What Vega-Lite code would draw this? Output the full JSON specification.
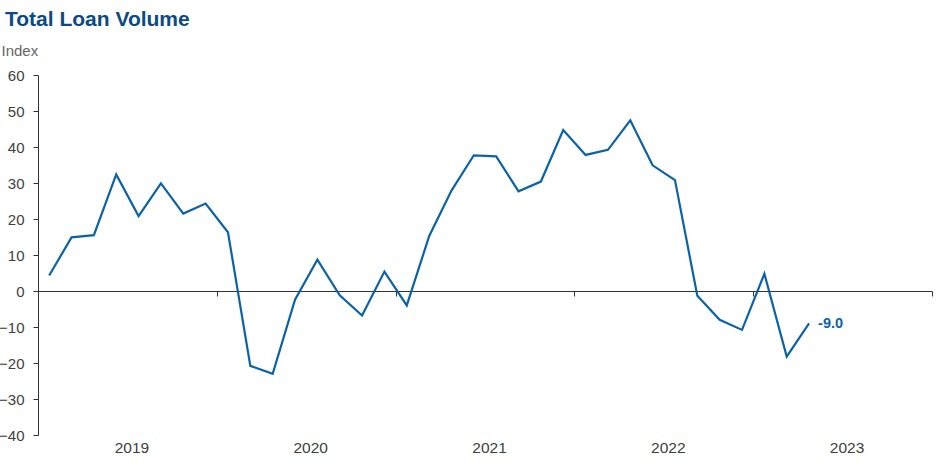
{
  "$schema": "https://vega.github.io/schema/vega-lite/v6.json",
  "width": 894,
  "height": 360,
  "autosize": {"type": "none"},
  "padding": {"left": 38, "top": 75, "right": 9, "bottom": 36},
  "background": "white",
  "config": {
    "view": {"stroke": null},
    "font": "Liberation Sans"
  },
  "title": {
    "text": "Total Loan Volume",
    "anchor": "start",
    "frame": "group",
    "fontSize": 21,
    "fontWeight": "bold",
    "color": "#0b4a84",
    "font": "Liberation Sans",
    "dx": -33,
    "offset": 13
  },
  "data": {
    "values": [
      {"t": 2019.0625, "v": 4.3},
      {"t": 2019.1875, "v": 14.9},
      {"t": 2019.3125, "v": 15.5},
      {"t": 2019.4375, "v": 32.4},
      {"t": 2019.5625, "v": 20.8},
      {"t": 2019.6875, "v": 29.9},
      {"t": 2019.8125, "v": 21.5},
      {"t": 2019.9375, "v": 24.3},
      {"t": 2020.0625, "v": 16.3},
      {"t": 2020.1875, "v": -20.8},
      {"t": 2020.3125, "v": -23.0},
      {"t": 2020.4375, "v": -2.4},
      {"t": 2020.5625, "v": 8.7},
      {"t": 2020.6875, "v": -1.2},
      {"t": 2020.8125, "v": -6.8},
      {"t": 2020.9375, "v": 5.4},
      {"t": 2021.0625, "v": -4.0},
      {"t": 2021.1875, "v": 15.2},
      {"t": 2021.3125, "v": 27.9},
      {"t": 2021.4375, "v": 37.7},
      {"t": 2021.5625, "v": 37.4},
      {"t": 2021.6875, "v": 27.7},
      {"t": 2021.8125, "v": 30.4},
      {"t": 2021.9375, "v": 44.7},
      {"t": 2022.0625, "v": 37.8},
      {"t": 2022.1875, "v": 39.2},
      {"t": 2022.3125, "v": 47.4},
      {"t": 2022.4375, "v": 34.9},
      {"t": 2022.5625, "v": 30.8},
      {"t": 2022.6875, "v": -1.3},
      {"t": 2022.8125, "v": -8.0},
      {"t": 2022.9375, "v": -10.8},
      {"t": 2023.0625, "v": 4.8},
      {"t": 2023.1875, "v": -18.2},
      {"t": 2023.3125, "v": -9.0}
    ]
  },
  "resolve": {"axis": {"x": "independent"}},
  "layer": [
    {
      "mark": {"type": "line", "color": "#0c62a6", "strokeWidth": 2.2},
      "encoding": {
        "x": {
          "field": "t",
          "type": "quantitative",
          "scale": {"domain": [2019, 2024], "nice": false, "zero": false},
          "axis": {
            "orient": "bottom",
            "title": null,
            "grid": false,
            "domain": false,
            "ticks": false,
            "tickSize": 0,
            "values": [2019.5, 2020.5, 2021.5, 2022.5, 2023.5],
            "labelExpr": "floor(datum.value)",
            "labelFontSize": 15.5,
            "labelColor": "#404040",
            "labelPadding": 5,
            "labelOffset": 4
          }
        },
        "y": {
          "field": "v",
          "type": "quantitative",
          "scale": {"domain": [-40, 60], "nice": false},
          "axis": {
            "title": "Index",
            "titleAngle": 0,
            "titleX": -37,
            "titleY": -20,
            "titleAlign": "left",
            "titleBaseline": "alphabetic",
            "titleFontSize": 15,
            "titleFontWeight": "normal",
            "titleColor": "#666666",
            "grid": false,
            "values": [-40, -30, -20, -10, 0, 10, 20, 30, 40, 50, 60],
            "domainColor": "#333333",
            "tickColor": "#333333",
            "tickSize": 5,
            "labelFontSize": 15,
            "labelColor": "#404040",
            "labelPadding": 9
          }
        }
      }
    },
    {
      "transform": [
        {"filter": "datum.t == 2023.3125"},
        {"calculate": "replace(format(datum.v, '.1f'), '\u2212', '-')", "as": "lbl"}
      ],
      "mark": {"type": "text", "align": "left", "baseline": "middle", "dx": 9, "dy": 1, "fontSize": 14.5, "fontWeight": "bold", "color": "#0c62a6"},
      "encoding": {
        "x": {
          "field": "t",
          "type": "quantitative",
          "axis": {
            "orient": "bottom",
            "title": null,
            "grid": false,
            "labels": false,
            "offset": -144,
            "domain": true,
            "domainColor": "#333333",
            "ticks": true,
            "tickSize": 5,
            "tickColor": "#333333",
            "values": [2019, 2020, 2021, 2022, 2023, 2024]
          }
        },
        "y": {
          "field": "v",
          "type": "quantitative",
          "scale": {"domain": [-40, 60], "nice": false},
          "axis": {
            "title": "Index",
            "titleAngle": 0,
            "titleX": -37,
            "titleY": -20,
            "titleAlign": "left",
            "titleBaseline": "alphabetic",
            "titleFontSize": 15,
            "titleFontWeight": "normal",
            "titleColor": "#666666",
            "grid": false,
            "values": [-40, -30, -20, -10, 0, 10, 20, 30, 40, 50, 60],
            "domainColor": "#333333",
            "tickColor": "#333333",
            "tickSize": 5,
            "labelFontSize": 15,
            "labelColor": "#404040",
            "labelPadding": 9
          }
        },
        "text": {"field": "lbl", "type": "nominal"}
      }
    }
  ]
}
